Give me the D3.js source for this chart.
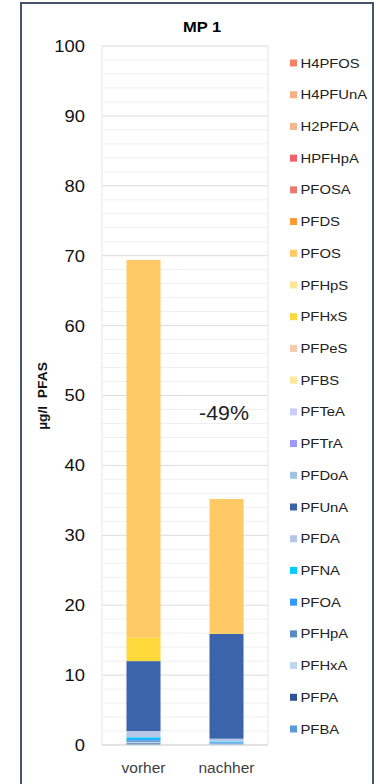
<!DOCTYPE html>
<html><head><meta charset="utf-8">
<script src="https://cdn.jsdelivr.net/npm/d3@7"></script>
<style>html,body{margin:0;padding:0;background:#fff;}svg{display:block;font-family:"Liberation Sans",Arial,sans-serif;}</style>
</head><body><div id="chart"></div>
<script>
const categories = ["vorher","nachher"];
// stack order bottom -> top
const seriesNames = ["PFBA","PFPA","PFHxA","PFHpA","PFOA","PFNA","PFDA","PFUnA","PFDoA","PFTrA","PFTeA","PFBS","PFPeS","PFHxS","PFHpS","PFOS","PFDS","PFOSA","HPFHpA","H2PFDA","H4PFUnA","H4PFOS"];
const seriesColors = ["#5b9bd5","#2f5597","#bdd7ee","#5a8ac6","#3399ff","#00ccff","#b4c7e7","#3b64ad","#9dc3e6","#9999ff","#ccccff","#ffe699","#f8cbad","#ffd93b","#ffe699","#ffc966","#ff9933","#e97a72","#f4606c","#f5b48c","#f8b082","#f4836a"];
const vorherValues  = [0.15,0.1,0.2,0.2,0.2,0.25,0.9,10.0,0,0,0,0,0,3.4,0,54.0,0,0,0,0,0,0];
const nachherValues = [0.1,0,0.1,0.1,0.1,0.1,0.4,15.0,0,0,0,0,0,0.1,0,19.2,0,0,0,0,0,0];
const yTicks = [0,10,20,30,40,50,60,70,80,90,100];
const minorTicks = d3.range(0,101,2);
const changeLabel = "-49%";
const title = "MP 1";
const yTitle = "µg/l\u00a0\u00a0PFAS";

const W=380,H=784;
const svg=d3.select("#chart").append("svg").attr("width",W).attr("height",H);
svg.append("rect").attr("x",21).attr("y",3).attr("width",352).attr("height",H+10).attr("fill","#fff").attr("stroke","#44546a").attr("stroke-width",2);

const x0=102,x1=268,yTop=46,yBot=745;
const x=d3.scaleBand().domain(categories).range([x0,x1]).paddingInner(0.59).paddingOuter(0.295);
const y=d3.scaleLinear().domain([0,100]).range([yBot,yTop]);

// grid
svg.append("g").selectAll("line").data(minorTicks).join("line")
 .attr("x1",x0).attr("x2",x1).attr("y1",d=>y(d)).attr("y2",d=>y(d))
 .attr("stroke",d=>d%10===0?"#dcdcdc":"#efefef").attr("stroke-width",1);
svg.append("line").attr("x1",x0).attr("x2",x0).attr("y1",yTop).attr("y2",yBot).attr("stroke","#e6e6e6");
svg.append("line").attr("x1",x1).attr("x2",x1).attr("y1",yTop).attr("y2",yBot).attr("stroke","#e6e6e6");

const rows=categories.map((c,i)=>{const o={cat:c};const v=i===0?vorherValues:nachherValues;seriesNames.forEach((s,j)=>o[s]=v[j]);return o;});
const stack=d3.stack().keys(seriesNames)(rows);
svg.append("g").selectAll("g").data(stack).join("g").attr("fill",(d,i)=>seriesColors[i])
 .selectAll("rect").data(d=>d).join("rect")
 .attr("x",d=>x(d.data.cat)).attr("width",x.bandwidth())
 .attr("y",d=>y(d[1])).attr("height",d=>Math.max(0,y(d[0])-y(d[1])));

// y axis
const yAxis=d3.axisLeft(y).tickValues(yTicks).tickSize(0).tickPadding(0);
const ga=svg.append("g").attr("transform",`translate(${x0-17},0)`).call(yAxis);
ga.select(".domain").remove();
ga.selectAll("text").attr("font-size",17).attr("fill","#111").attr("font-family","Liberation Sans, Arial, sans-serif").attr("transform","scale(1.08,1)");

// x axis
const xa=d3.axisBottom(x).tickSize(0).tickPadding(0);
const gx=svg.append("g").attr("transform",`translate(0,${yBot+17})`).call(xa);
gx.select(".domain").remove();
gx.selectAll("text").attr("font-size",15.5).attr("fill","#404040").attr("font-family","Liberation Sans, Arial, sans-serif");

svg.append("line").attr("x1",x0).attr("x2",x1).attr("y1",yBot).attr("y2",yBot).attr("stroke","#d9d9d9");

svg.append("text").attr("transform","translate(202,32) scale(1.1,1)").attr("text-anchor","middle").attr("font-weight","bold").attr("font-size",15).text(title);
svg.append("text").attr("transform","translate(47,396) rotate(-90) scale(1.15,1)").attr("text-anchor","middle").attr("font-weight","bold").attr("font-size",12).attr("fill","#111").text(yTitle);
svg.append("text").attr("transform","translate(224,420) scale(1.07,1)").attr("text-anchor","middle").attr("font-size",20).attr("fill","#222").text(changeLabel);

// legend (top -> bottom reversed stack)
const leg=seriesNames.map((s,i)=>({s,c:seriesColors[i]})).reverse();
const ly=d3.scalePoint().domain(leg.map(d=>d.s)).range([63,729]);
const lg=svg.append("g").selectAll("g").data(leg).join("g").attr("transform",d=>`translate(290,${ly(d.s)})`);
lg.append("rect").attr("x",0).attr("y",-3.5).attr("width",7).attr("height",7).attr("fill",d=>d.c);
lg.append("text").attr("transform","translate(10.5,0) scale(1.14,1)").attr("dy","0.35em").attr("font-size",13).attr("fill","#222").text(d=>d.s);
</script></body></html>
